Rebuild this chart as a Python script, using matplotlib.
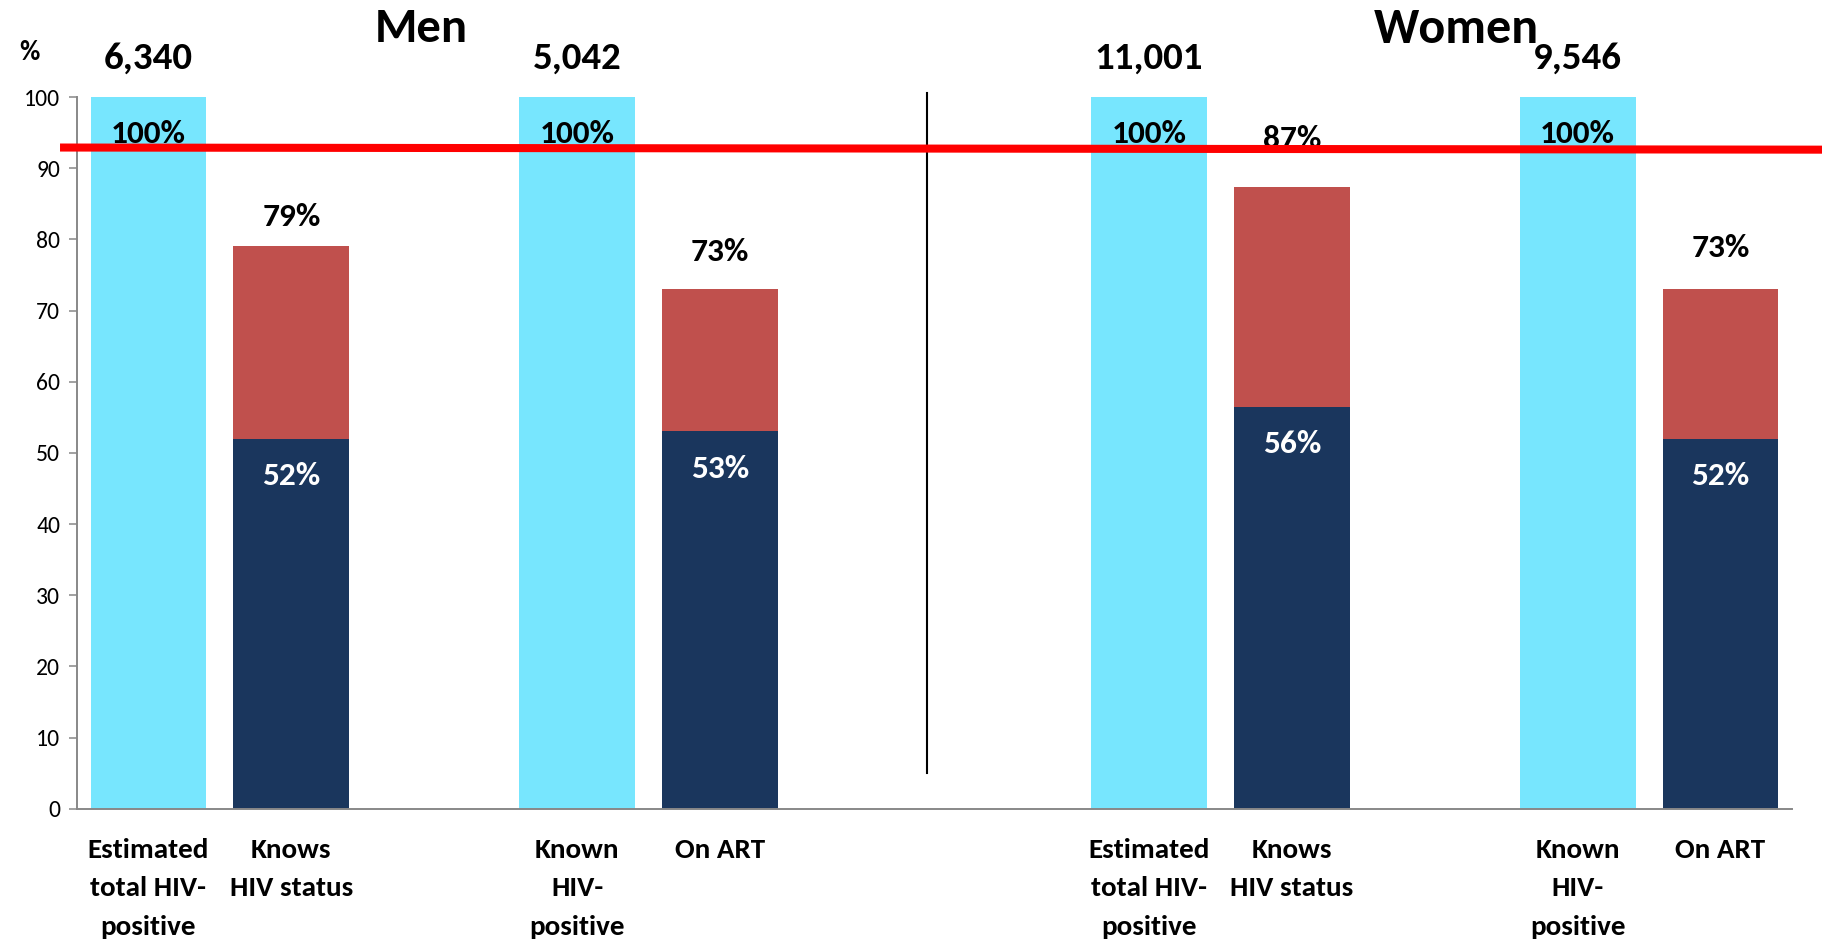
import matplotlib
matplotlib.use("Agg")
import matplotlib.pyplot as plt
import matplotlib.transforms as mtransforms
from matplotlib import font_manager as fm

# ---------------- data ----------------
groups = ["Men", "Women"]
group_counts = [["6,340", "5,042"], ["11,001", "9,546"]]
stage_labels = ["Estimated\ntotal HIV-\npositive", "Knows\nHIV status",
                "Known\nHIV-\npositive", "On ART"]
reference_pct = [100, 100, 100, 100]            # cyan bars (Men ref1, Men ref2, Women ref1, Women ref2)
total_pct = [79, 73, 87.4, 73]                  # stacked bar totals (Men knows, Men ART, Women knows, Women ART)
total_labels = ["79%", "73%", "87%", "73%"]
lower_pct = [52, 53, 56.5, 52]                  # dark navy part
lower_labels = ["52%", "53%", "56%", "52%"]
target_line = [92.9, 92.6]
y_ticks = [0, 10, 20, 30, 40, 50, 60, 70, 80, 90, 100]

# ---------------- style ----------------
names = {f.name for f in fm.fontManager.ttflist}
FONT = next(f for f in ["Carlito", "Calibri", "Lato", "DejaVu Sans"] if f in names)
plt.rcParams["font.family"] = [FONT, "DejaVu Sans"]

CYAN = "#77E6FE"
NAVY = "#1A365D"
BRICK = "#C0504D"
RED = "#FF0000"
GREY = "#888888"

fig = plt.figure(figsize=(18.22, 9.44), dpi=100)
ax = fig.add_axes([77 / 1822, (944 - 808.7) / 944, 1715 / 1822, 711.7 / 944])

# slot layout
ref_pos = [0, 3, 7, 10]
stack_pos = [1, 4, 8, 11]
bw = 0.81

ax.bar(ref_pos, reference_pct, width=bw, color=CYAN, zorder=2)
ax.bar(stack_pos, lower_pct, width=bw, color=NAVY, zorder=2)
upper = [t - l for t, l in zip(total_pct, lower_pct)]
ax.bar(stack_pos, upper, bottom=lower_pct, width=bw, color=BRICK, zorder=2)

PCT_FS = 24

# labels on cyan bars
for x, v in zip(ref_pos, reference_pct):
    ax.text(x, v - 5.2, f"{v}%", ha="center", va="center", fontsize=PCT_FS,
            fontweight="bold", color="black", zorder=3)
counts_flat = [c for g in group_counts for c in g]
for x, c in zip(ref_pos, counts_flat):
    ax.text(x, 105.4, c, ha="center", va="center", fontsize=28,
            fontweight="bold", color="black", clip_on=False, zorder=3)

# labels on stacked bars
total_offsets = [4.1, 5.2, 6.7, 5.8]
for x, t, lab, off in zip(stack_pos, total_pct, total_labels, total_offsets):
    ax.text(x, t + off, lab, ha="center", va="center", fontsize=PCT_FS,
            fontweight="bold", color="black", zorder=3)
for x, l, lab in zip(stack_pos, lower_pct, lower_labels):
    ax.text(x, l - 5.3, lab, ha="center", va="center", fontsize=PCT_FS,
            fontweight="bold", color="white", zorder=3)

# group titles
ax.text(1.91, 109.5, groups[0], ha="center", va="center", fontsize=35,
        fontweight="bold", clip_on=False)
ax.text(9.15, 109.5, groups[1], ha="center", va="center", fontsize=36,
        fontweight="bold", clip_on=False)

# divider
ax.plot([5.45, 5.45], [5, 100.5], color="black", lw=1.5, clip_on=False, zorder=4)

# target red line (extends beyond axes)
trans = mtransforms.blended_transform_factory(ax.transAxes, ax.transData)
ax.plot([-0.0099, 1.0175], target_line, color=RED, lw=5.8, transform=trans,
        clip_on=False, zorder=5, solid_capstyle="butt")

# axes styling
ax.set_xlim(-0.5, 11.5)
ax.set_ylim(0, 100)
ax.set_yticks(y_ticks)
ax.set_yticklabels([str(t) for t in y_ticks], fontsize=17)
ax.tick_params(axis="y", direction="out", length=6, width=1.1, color=GREY, pad=6)
xt = sorted(ref_pos + stack_pos)
ax.set_xticks(xt)
ax.set_xticklabels(stage_labels * 2, fontsize=21, fontweight="bold",
                   linespacing=1.72, va="top")
ax.tick_params(axis="x", length=0, pad=21)
for s in ["top", "right"]:
    ax.spines[s].set_visible(False)
for s in ["left", "bottom"]:
    ax.spines[s].set_color(GREY)
    ax.spines[s].set_linewidth(1.4)

fig.text(29 / 1822, 1 - 52 / 944, "%", ha="center", va="center", fontsize=20,
         fontweight="bold")

fig.savefig("out.png", dpi=100)
